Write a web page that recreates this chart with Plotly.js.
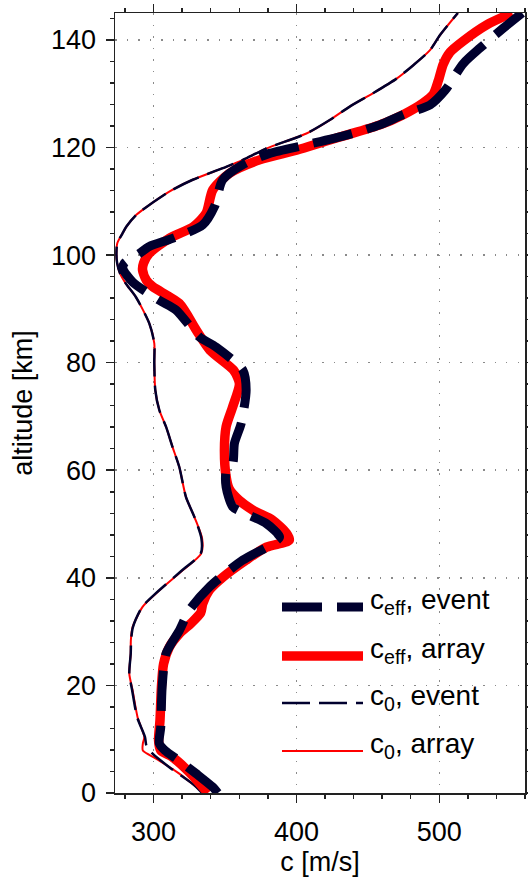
<!DOCTYPE html>
<html>
<head>
<meta charset="utf-8">
<script src="https://cdn.plot.ly/plotly-3.0.1.min.js"></script>
<style>html,body{margin:0;padding:0;background:#fff;}#plot{width:528px;height:877px;}</style>
</head>
<body>
<div id="plot"></div>
<script>
// c_eff, array (thick red)
const ceffArrayAlt = [0,3.6,6.7,7.9,9.8,13.5,19.7,24.0,27.1,29.6,31.5,33.5,35.2,37.7,40.1,43.3,45.7,47.0,48.3,50.7,52.5,54.4,56.5,58.8,63.7,68.1,71.8,76.1,78.6,82.3,86.0,91.0,94.1,95.3,97.2,98.5,100.3,103.1,105.3,107.8,112.1,115.2,117.7,119.5,121.4,122.3,124.2,126.1,128.3,129.9,132.4,135.5,137.7,139.8,142.8,145];
const ceffArrayC   = [338,326,313,305,303.5,304.5,305.5,307,311,318,326,333,334.4,339,348.4,364.8,379,395,393,383.5,370,360,353,350.8,349.6,350.8,355.4,360.1,356,339.5,330,318,299.5,295,292.3,293,297,311,328,336.8,341.4,353.1,374.2,400,423.3,435,458.4,474.7,488.8,495.8,499.3,502.8,507.5,516.8,533.2,551];

// c_eff, event (thick dashed navy)
const ceffEventAlt = [0,1.1,3.6,6.0,7.9,9.2,12.2,19.7,25.9,30.2,34.0,38.3,43.3,46.0,47.6,50.1,51.9,53.2,56.9,59.7,61.2,65.0,68.7,74.9,78.6,82.9,84.8,89.8,91.6,95.0,97.5,98.5,100.3,101.6,103.1,105.6,109.0,114.0,116.8,118.9,120.5,122.3,124.2,126.1,127.9,130.6,135.6,138.5,142.2,145];
const ceffEventC   = [345,341.4,329.8,318,308,304,305,306,308.7,318,325.1,339.1,362.5,381.2,388.2,378.9,364.8,355.4,350.8,350.8,355.4,356.6,361.3,364.8,362.5,343.8,332,315.7,304,285.3,278.5,279.5,290,297,313.3,334.4,342.6,348.4,362.5,381.2,407,435,458.4,474.7,493.5,504,516.8,528.6,544.9,558];

// c_0, array (thin red)
const c0ArrayAlt = [0,3.6,6.4,7.9,9.2,10.4,14.1,19.1,22.2,25.9,28.4,30.8,34.6,37.1,41.4,44.5,47.3,51.3,55.0,60.6,64.3,68.1,71.2,74.9,79.9,83.6,87.3,92.2,94.7,96.6,98.5,100.3,102.2,104.0,105.3,107.4,108.4,111.8,114.0,116.4,117.7,119.8,122.6,125.1,127.6,130.1,132.8,135.3,138.1,140.9,145];
const c0ArrayC   = [335,318,301.7,292.5,292.5,293.5,288.8,285.3,283,284,284.1,285.3,292.3,301.7,320.4,333.3,334,328.6,322.7,318,313.3,308.7,304,301.2,300.5,300.5,297,287.6,280.6,276.5,274.5,274,274.6,278.2,281,287.6,292.3,311,327.4,350.8,362.5,378.9,407,423.3,437.3,453.7,470.1,481.8,493.5,500.5,513];

// c_0, event (thin dashed navy)
const c0EventAlt = [0,1.7,4.8,7.3,8.8,10.4,14.1,19.1,22.2,25.9,28.4,30.8,34.6,37.1,41.4,44.5,47.3,51.3,55.0,60.6,64.3,68.1,71.2,74.9,79.9,83.6,87.3,92.2,94.7,96.6,98.5,100.3,102.2,104.0,105.3,107.4,108.4,111.8,114.0,116.4,117.7,119.8,122.6,125.1,127.6,130.1,132.8,135.3,138.1,140.9,145];
const c0EventC   = [334,327.4,311,299.3,295,294,288.5,285,283,284,284.3,285.5,292,301.5,320,333,333.5,328.6,322.7,318,313.3,308.7,304,301.2,300.5,300.5,297,287.6,280.6,276.5,274.5,274,274.6,278.2,281,287.6,292.3,311,327.4,350.8,362.5,378.9,407,423.3,437.3,453.7,470.1,481.8,493.5,500.5,513];

const legendLabels = ['c<sub>eff</sub>, event','c<sub>eff</sub>, array','c<sub>0</sub>, event','c<sub>0</sub>, array'];
const xTitle = 'c [m/s]';
const yTitle = 'altitude [km]';

const NAVY = '#00002e', RED = '#ff0000';
const styles = [
  {color: NAVY, width: 9, dash: '40px,15px'},
  {color: RED, width: 9.5, dash: 'solid'},
  {color: NAVY, width: 2.5, dash: '28px,9px'},
  {color: RED, width: 2, dash: 'solid'}
];
const lineOf = s => ({color: s.color, width: s.width, dash: s.dash, shape: 'spline', smoothing: 0.7});

const traces = [
  {x: c0ArrayC, y: c0ArrayAlt, mode: 'lines', line: lineOf(styles[3]), name: legendLabels[3]},
  {x: c0EventC, y: c0EventAlt, mode: 'lines', line: lineOf(styles[2]), name: legendLabels[2]},
  {x: ceffArrayC, y: ceffArrayAlt, mode: 'lines', line: lineOf(styles[1]), name: legendLabels[1]},
  {x: ceffEventC, y: ceffEventAlt, mode: 'lines', line: lineOf(styles[0]), name: legendLabels[0]}
];

// manual legend (paper coordinates)
const L = 115, R = 525, T = 13, B = 793;
const px = v => (v - L) / (R - L);
const py = v => (B - v) / (B - T);
const rowY = [607, 656, 703, 751];
const shapes = [], annotations = [];
rowY.forEach((yy, i) => {
  shapes.push({type: 'line', xref: 'paper', yref: 'paper', x0: px(282), x1: px(363), y0: py(yy), y1: py(yy),
    line: {color: styles[i].color, width: styles[i].width, dash: styles[i].dash}});
  annotations.push({xref: 'paper', yref: 'paper', x: px(368), y: py(yy - 6), xanchor: 'left', yanchor: 'middle',
    text: legendLabels[i], showarrow: false, font: {size: 28, color: '#000'}});
});

const axisCommon = {
  showline: true, linecolor: '#222', linewidth: 1.5, mirror: 'ticks',
  ticks: 'outside', ticklen: 8, tickwidth: 1.5, tickcolor: '#222',
  showgrid: true, gridcolor: '#8a8a8a', gridwidth: 1.5, griddash: '1.5px,10px',
  zeroline: false, tickfont: {size: 27, color: '#000'}
};

const layout = {
  width: 528, height: 877,
  margin: {l: L, r: 528 - R, t: T, b: 877 - B, pad: 0},
  paper_bgcolor: '#fff', plot_bgcolor: '#fff',
  font: {family: 'Liberation Sans, Arial, sans-serif', size: 27, color: '#000'},
  showlegend: false,
  xaxis: Object.assign({}, axisCommon, {
    range: [273, 560], tick0: 0, dtick: 100, ticklabelstandoff: 6,
    minor: {dtick: 20, ticklen: 4, ticks: 'outside', tickwidth: 1.5, tickcolor: '#222', showgrid: false},
    title: {text: xTitle, font: {size: 27}, standoff: 6}
  }),
  yaxis: Object.assign({}, axisCommon, {
    range: [0, 145], tick0: 0, dtick: 20, ticklabelstandoff: 4,
    minor: {dtick: 4, ticklen: 4, ticks: 'outside', tickwidth: 1.5, tickcolor: '#222', showgrid: false},
    title: {text: yTitle, font: {size: 27}, standoff: 10}
  }),
  shapes: shapes,
  annotations: annotations
};

Plotly.newPlot('plot', traces, layout, {staticPlot: true, displayModeBar: false});
</script>
</body>
</html>
